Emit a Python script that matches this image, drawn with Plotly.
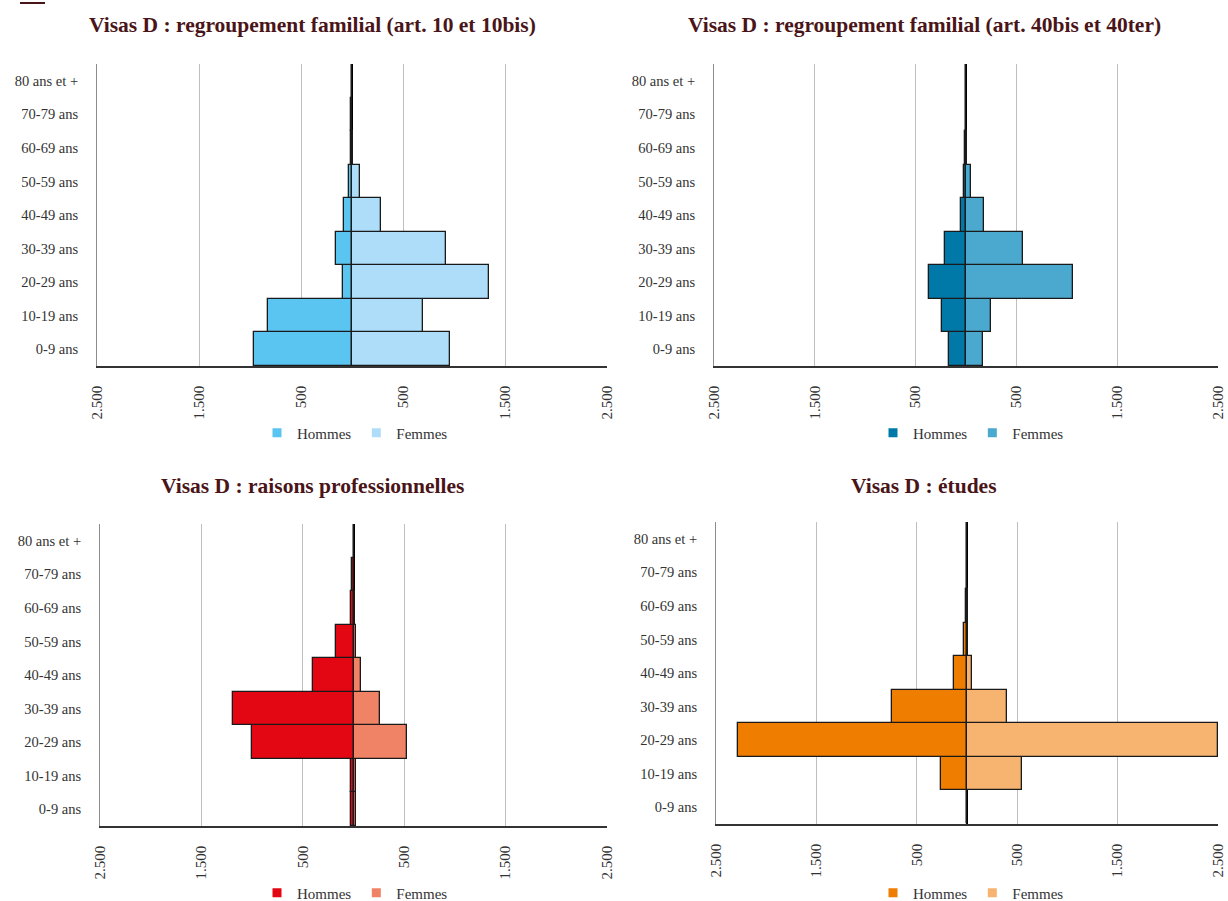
import plotly.graph_objects as go

ages = ['0-9 ans', '10-19 ans', '20-29 ans', '30-39 ans', '40-49 ans',
        '50-59 ans', '60-69 ans', '70-79 ans', '80 ans et +']

titles = ['Visas D : regroupement familial (art. 10 et 10bis)',
          'Visas D : regroupement familial (art. 40bis et 40ter)',
          'Visas D : raisons professionnelles',
          'Visas D : études']

fam10_hommes = [957, 825, 93, 160, 82, 31, 8, 5, 3]
fam10_femmes = [961, 697, 1339, 922, 288, 74, 6, 4, 2]
fam40_hommes = [168, 240, 366, 210, 50, 15, 10, 4, 1]
fam40_femmes = [172, 244, 1065, 569, 176, 46, 8, 4, 1]
pro_hommes = [20, 27, 998, 1189, 401, 175, 20, 10, 0]
pro_femmes = [20, 23, 526, 257, 70, 27, 12, 5, 0]
etu_hommes = [1, 263, 2281, 751, 133, 27, 12, 0, 0]
etu_femmes = [1, 545, 2500, 400, 50, 5, 8, 0, 0]

tick_vals = [-2500, -1500, -500, 500, 1500, 2500]
tick_text = ['2.500', '1.500', '500', '500', '1.500', '2.500']

colors = [('#5BC5F2', '#ADDDF8'), ('#0078A8', '#4BA8CE'),
          ('#E30613', '#F08366'), ('#EF7D00', '#F7B471')]

series = [(fam10_hommes, fam10_femmes), (fam40_hommes, fam40_femmes),
          (pro_hommes, pro_femmes), (etu_hommes, etu_femmes)]

W, H = 1228, 901
# plot areas in pixels: (left, right, top, bottom)
areas = [(97, 607, 64, 366), (714, 1218, 64, 366),
         (100, 607, 524, 826), (716, 1218, 522, 824)]
title_pos = [(312, 25), (924, 25), (312, 486), (924, 486)]
legend_pos = [(355, 433), (971, 433), (355, 893), (971, 893)]

FONT = 'Liberation Serif'
fig = go.Figure()
layout = dict(
    width=W, height=H, margin=dict(l=0, r=0, t=0, b=0, autoexpand=False),
    paper_bgcolor='white', plot_bgcolor='white',
    barmode='relative', bargap=0,
    font=dict(family=FONT, size=14, color='#333333'),
    annotations=[], shapes=[],
)

for i, ((hom, fem), (ch, cf)) in enumerate(zip(series, colors)):
    n = i + 1
    xa = 'x' if n == 1 else f'x{n}'
    ya = 'y' if n == 1 else f'y{n}'
    lg = 'legend' if n == 1 else f'legend{n}'
    fig.add_trace(go.Bar(
        y=ages, x=[-v for v in hom], orientation='h', name='Hommes',
        marker=dict(color=ch, line=dict(color='#1a1a1a', width=1.3)),
        xaxis=xa, yaxis=ya, showlegend=False, customdata=hom,
        hovertemplate='%{y}: %{customdata}<extra>Hommes</extra>'))
    fig.add_trace(go.Bar(
        y=ages, x=fem, orientation='h', name='Femmes',
        marker=dict(color=cf, line=dict(color='#1a1a1a', width=1.3)),
        xaxis=xa, yaxis=ya, showlegend=False,
        hovertemplate='%{y}: %{x}<extra>Femmes</extra>'))
    # legend entries (square swatches without outline)
    for name, c in (('Hommes', ch), ('Femmes', cf)):
        fig.add_trace(go.Scatter(
            x=[None], y=[None], mode='markers', name=name,
            marker=dict(symbol='square', size=9, color=c),
            xaxis=xa, yaxis=ya, legend=lg, hoverinfo='skip'))

    l, r, t, b = areas[i]
    xkey = 'xaxis' if n == 1 else f'xaxis{n}'
    ykey = 'yaxis' if n == 1 else f'yaxis{n}'
    layout[xkey] = dict(
        domain=[l / W, r / W], anchor=ya, range=[-2500, 2500],
        automargin=False, ticklabeloverflow='allow',
        tickmode='array', tickvals=tick_vals, ticktext=tick_text,
        tickangle=-90, showgrid=True, gridcolor='#BFBFBF', gridwidth=1,
        zeroline=True, zerolinecolor='#000000', zerolinewidth=1.5,
        showline=True, linecolor='#333333', linewidth=1.5,
        ticks='', ticklabelstandoff=12,
        tickfont=dict(family=FONT, size=15, color='#333333'),
        fixedrange=True)
    layout[ykey] = dict(
        domain=[1 - b / H, 1 - t / H], anchor=xa,
        automargin=False,
        categoryorder='array', categoryarray=ages,
        showgrid=False, zeroline=False,
        showline=True, linecolor='#8C8C8C', linewidth=1,
        ticks='', ticklabelstandoff=15,
        tickfont=dict(family=FONT, size=14.5, color='#333333'),
        fixedrange=True)
    lx, ly = legend_pos[i]
    layout[lg] = dict(
        orientation='h', x=lx / W, y=1 - ly / H, xanchor='center',
        yanchor='middle', itemwidth=30,
        font=dict(family=FONT, size=15, color='#333333'),
        bgcolor='rgba(0,0,0,0)', itemclick=False, itemdoubleclick=False)
    tx, ty = title_pos[i]
    layout['annotations'].append(dict(
        text=f'<b>{titles[i]}</b>', x=tx / W, y=1 - ty / H,
        xref='paper', yref='paper', xanchor='center', yanchor='middle',
        showarrow=False, font=dict(family=FONT, size=21.5, color='#4A1518')))

layout['shapes'].append(dict(
    type='line', xref='paper', yref='paper', x0=20 / W, x1=45 / W,
    y0=1 - 3 / H, y1=1 - 3 / H, line=dict(color='#4A1518', width=2)))

fig.update_layout(**layout)
fig.write_html('out.html')
